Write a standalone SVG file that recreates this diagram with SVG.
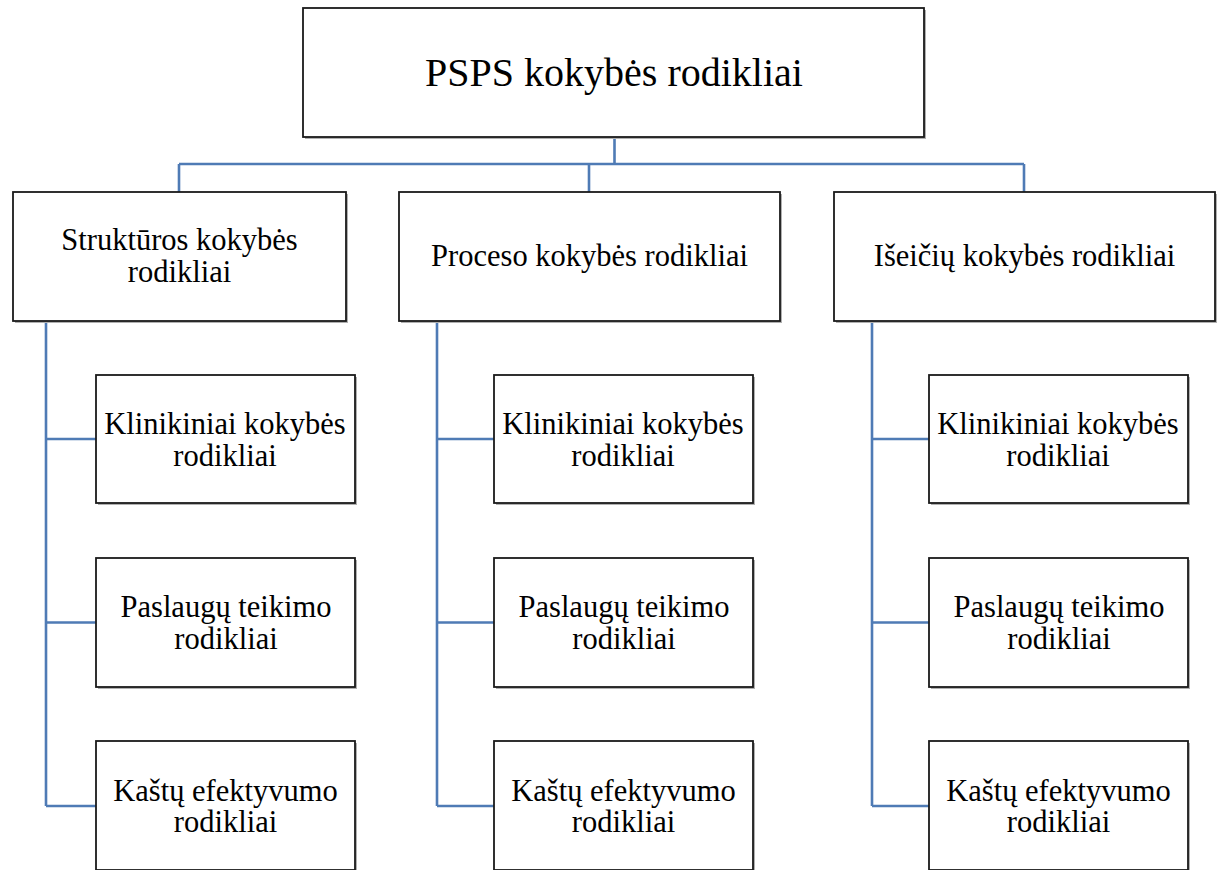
<svg xmlns="http://www.w3.org/2000/svg" width="1225" height="870" viewBox="0 0 1225 870">
<style>
.box{fill:#ffffff;stroke:#1a1a1a;stroke-width:1.8}
.sh{fill:#b0b0b0}
.t{font-family:"Liberation Serif","Times New Roman",serif;fill:#000;text-anchor:middle}
.big{font-size:40px}
.mid{font-size:30.5px}
.conn{fill:none;stroke:#4f7bb5;stroke-width:2.6}
</style>
<rect width="1225" height="870" fill="#ffffff"/>
<g id="connectors">
<path class="conn" d="M614.5 137V164M179 164H1024M179 164V192M589 164V192M1024 164V192"/>
<path class="conn" d="M46 321V806M46 439H96M46 622.5H96M46 806H96"/>
<path class="conn" d="M437 321V806M437 439H494M437 622.5H494M437 806H494"/>
<path class="conn" d="M872 321V806M872 439H929M872 622.5H929M872 806H929"/>
</g>
<g id="root">
<rect class="sh" x="305" y="10" width="621" height="129"/>
<rect class="box" x="303" y="8" width="621" height="129"/>
<text class="t big" x="614" y="86">PSPS kokybės rodikliai</text>
</g>
<g id="struktura">
<rect class="sh" x="15" y="194" width="333" height="129"/>
<rect class="box" x="13" y="192" width="333" height="129"/>
<text class="t mid" x="179.5" y="250">Struktūros kokybės</text>
<text class="t mid" x="179.5" y="282">rodikliai</text>
</g>
<g id="procesas">
<rect class="sh" x="401" y="194" width="381" height="129"/>
<rect class="box" x="399" y="192" width="381" height="129"/>
<text class="t mid" x="589.5" y="266">Proceso kokybės rodikliai</text>
</g>
<g id="iseitys">
<rect class="sh" x="836" y="194" width="381" height="129"/>
<rect class="box" x="834" y="192" width="381" height="129"/>
<text class="t mid" x="1024.5" y="266">Išeičių kokybės rodikliai</text>
</g>
<g id="s-klin">
<rect class="sh" x="98" y="377" width="259" height="128"/>
<rect class="box" x="96" y="375" width="259" height="128"/>
<text class="t mid" x="225" y="434">Klinikiniai kokybės</text>
<text class="t mid" x="225" y="466">rodikliai</text>
</g>
<g id="s-pasl">
<rect class="sh" x="98" y="560" width="259" height="129"/>
<rect class="box" x="96" y="558" width="259" height="129"/>
<text class="t mid" x="226" y="617">Paslaugų teikimo</text>
<text class="t mid" x="226" y="649">rodikliai</text>
</g>
<g id="s-kast">
<rect class="sh" x="98" y="743" width="259" height="129"/>
<rect class="box" x="96" y="741" width="259" height="129"/>
<text class="t mid" x="225.5" y="801">Kaštų efektyvumo</text>
<text class="t mid" x="225.5" y="832">rodikliai</text>
</g>
<g id="p-klin">
<rect class="sh" x="496" y="377" width="259" height="128"/>
<rect class="box" x="494" y="375" width="259" height="128"/>
<text class="t mid" x="623" y="434">Klinikiniai kokybės</text>
<text class="t mid" x="623" y="466">rodikliai</text>
</g>
<g id="p-pasl">
<rect class="sh" x="496" y="560" width="259" height="129"/>
<rect class="box" x="494" y="558" width="259" height="129"/>
<text class="t mid" x="624" y="617">Paslaugų teikimo</text>
<text class="t mid" x="624" y="649">rodikliai</text>
</g>
<g id="p-kast">
<rect class="sh" x="496" y="743" width="259" height="129"/>
<rect class="box" x="494" y="741" width="259" height="129"/>
<text class="t mid" x="623.5" y="801">Kaštų efektyvumo</text>
<text class="t mid" x="623.5" y="832">rodikliai</text>
</g>
<g id="i-klin">
<rect class="sh" x="931" y="377" width="259" height="128"/>
<rect class="box" x="929" y="375" width="259" height="128"/>
<text class="t mid" x="1058" y="434">Klinikiniai kokybės</text>
<text class="t mid" x="1058" y="466">rodikliai</text>
</g>
<g id="i-pasl">
<rect class="sh" x="931" y="560" width="259" height="129"/>
<rect class="box" x="929" y="558" width="259" height="129"/>
<text class="t mid" x="1059" y="617">Paslaugų teikimo</text>
<text class="t mid" x="1059" y="649">rodikliai</text>
</g>
<g id="i-kast">
<rect class="sh" x="931" y="743" width="259" height="129"/>
<rect class="box" x="929" y="741" width="259" height="129"/>
<text class="t mid" x="1058.5" y="801">Kaštų efektyvumo</text>
<text class="t mid" x="1058.5" y="832">rodikliai</text>
</g>
</svg>
